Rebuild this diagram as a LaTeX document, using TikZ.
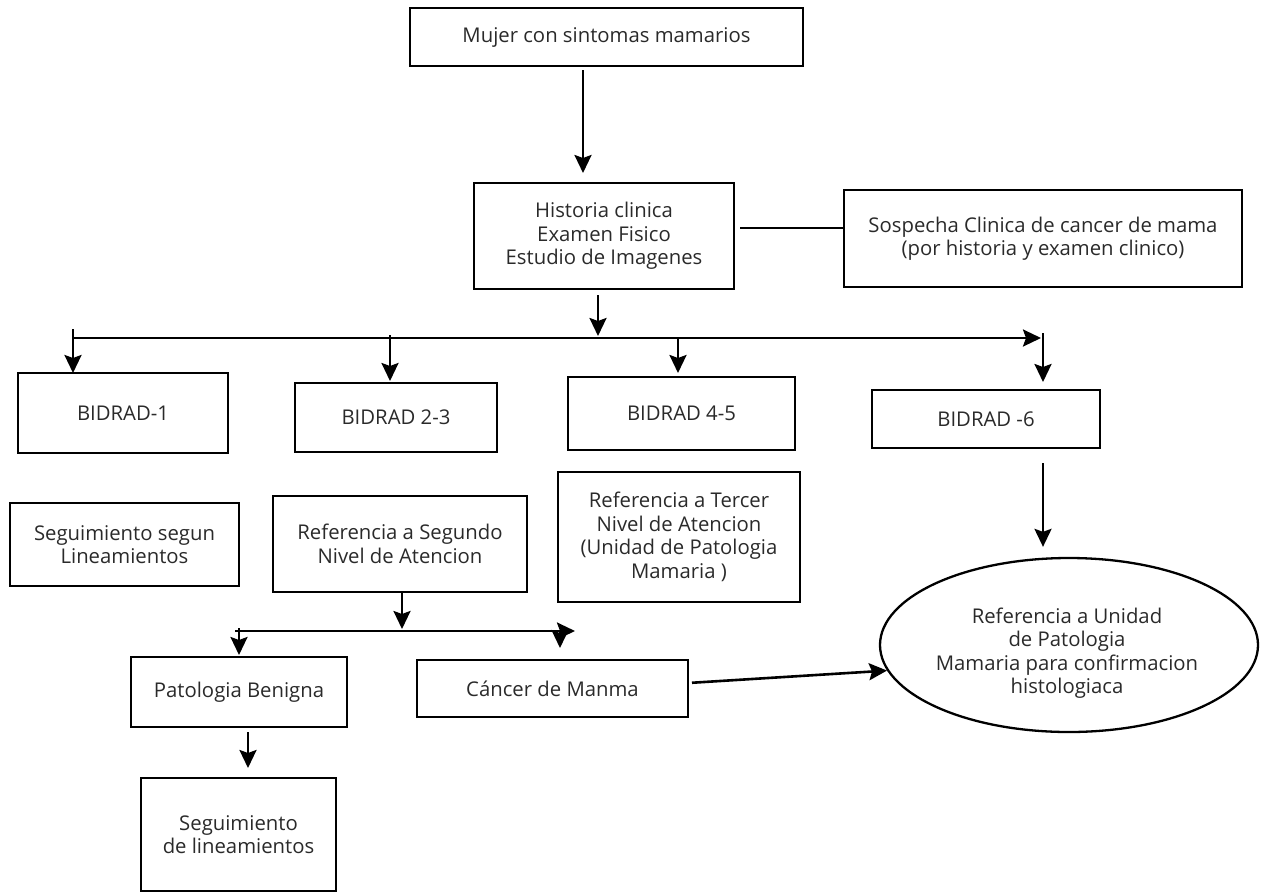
\documentclass[tikz,border=0pt]{standalone}
\usepackage{fontspec}
\setmainfont{Open Sans}
\usetikzlibrary{arrows.meta,shapes.geometric}
\newcommand\diafont{\fontsize{20.3}{23.5}\selectfont}
\definecolor{txt}{HTML}{2A2A2A}
\begin{document}
\begin{tikzpicture}[x=1pt,y=-1pt,
  box/.style={draw, line width=2.8pt, align=center, inner sep=0pt, outer sep=0pt, font=\diafont, text=txt},
  ln/.style={line width=2.6pt},
  arr/.style={line width=2.6pt, -{Stealth[length=18pt,width=17pt,inset=3pt]}}
]
\useasboundingbox (0,0) rectangle (1261,895);

% boxes
\node[box, minimum width=393pt, minimum height=58pt] (mujer) at (606.5,37) {Mujer con sintomas mamarios};
\node[box, minimum width=260pt, minimum height=106pt] (historia) at (604,236) {Historia clinica\\Examen Fisico\\Estudio de Imagenes};
\node[box, minimum width=398pt, minimum height=97pt] (sospecha) at (1043,238.5) {Sospecha Clinica de cancer de mama\\(por historia y examen clinico)};
\node[box, minimum width=210pt, minimum height=80pt] (bidrad1) at (123,413) {BIDRAD-1};
\node[box, minimum width=202pt, minimum height=69pt] (bidrad23) at (396,417.5) {BIDRAD 2-3};
\node[box, minimum width=227pt, minimum height=73pt] (bidrad45) at (681.5,413.5) {BIDRAD 4-5};
\node[box, minimum width=228pt, minimum height=58pt] (bidrad6) at (986,419) {BIDRAD -6};
\node[box, minimum width=229pt, minimum height=83pt] (seg1) at (124.5,544.5) {Seguimiento segun\\Lineamientos};
\node[box, minimum width=254pt, minimum height=96pt] (segundo) at (400,544) {Referencia a Segundo\\Nivel de Atencion};
\node[box, minimum width=242pt, minimum height=130pt] (tercer) at (679,537) {Referencia a Tercer\\Nivel de Atencion\\(Unidad de Patologia\\Mamaria )};
\node[box, minimum width=216pt, minimum height=70pt] (benigna) at (239,692) {Patologia Benigna};
\node[box, minimum width=271pt, minimum height=57pt] (cancer) at (552.5,688.5) {Cáncer de Manma};
\node[box, minimum width=195pt, minimum height=113pt] (seglin) at (238.5,834.5) {Seguimiento\\de lineamientos};
\node[draw, ellipse, line width=2.3pt, minimum width=378pt, minimum height=174pt, inner sep=0pt] (ell) at (1069,645) {};
\node[align=center, font=\diafont, text=txt, inner sep=0pt] (elltext) at (1067,653) {Referencia a Unidad\\de Patologia\\Mamaria para confirmacion\\histologiaca};

% junction points
\coordinate (a1) at (583,0);
\coordinate (l1) at (0,228);
\coordinate (a2) at (598,336);
\coordinate (busL) at (72,338);
\coordinate (busR) at (1041,338);
\coordinate (b1) at (73,329);
\coordinate (b2) at (390,335);
\coordinate (b3) at (678,338);
\coordinate (b4) at (1043,333);
\coordinate (a3) at (402,629);
\coordinate (bus2L) at (235,631);
\coordinate (bus2R) at (575,631);
\coordinate (c1) at (239,628);
\coordinate (c2) at (560,631);
\coordinate (d1) at (248,0);

% connectors
\draw[arr, shorten <=4pt, shorten >=10pt] (mujer.south -| a1) -- (historia.north -| a1);
\draw[ln, shorten <=6pt] (historia.east |- l1) -- (sospecha.west |- l1);
\draw[arr, shorten <=6pt] (historia.south -| a2) -- (a2);
\draw[arr] (busL) -- (busR);
\draw[arr] (b1) -- (bidrad1.north -| b1);
\draw[arr, shorten >=2pt] (b2) -- (bidrad23.north -| b2);
\draw[arr, shorten >=4pt] (b3) -- (bidrad45.north -| b3);
\draw[arr, shorten >=8pt] (b4) -- (bidrad6.north -| b4);
\draw[arr, shorten <=15pt, shorten >=10pt] (bidrad6.south -| b4) -- (ell.north -| b4);
\draw[arr] (segundo.south -| a3) -- (a3);
\draw[arr] (bus2L) -- (bus2R);
\draw[arr, shorten >=2pt] (c1) -- (benigna.north -| c1);
\draw[arr, shorten >=12pt] (c2) -- (cancer.north -| c2);
\draw[arr, shorten <=4pt] ([yshift=5.5pt]cancer.east) -- (ell.188);
\draw[arr, shorten <=5pt, shorten >=10pt] (benigna.south -| d1) -- (seglin.north -| d1);
\end{tikzpicture}
\end{document}
